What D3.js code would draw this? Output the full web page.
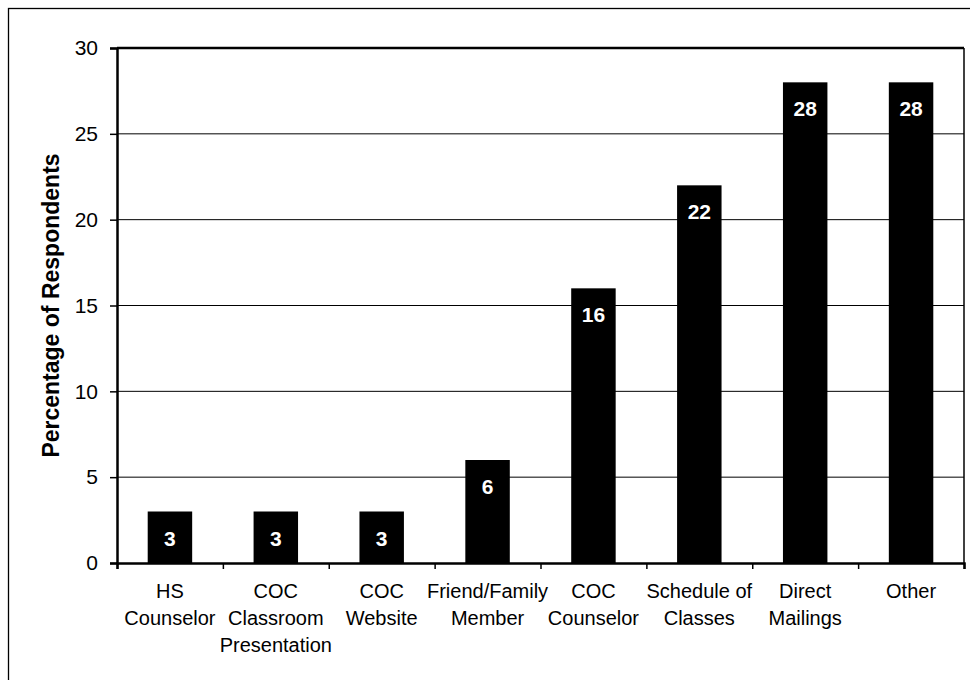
<!DOCTYPE html>
<html><head><meta charset="utf-8">
<script src="https://cdn.jsdelivr.net/npm/d3@7"></script>
<style>body{margin:0;background:#fff}svg{display:block}text{font-family:Arial,"Liberation Sans",sans-serif}</style>
</head><body>
<svg id="c" width="970" height="680"></svg>
<script>
const categories = [["HS","Counselor"],["COC","Classroom","Presentation"],["COC","Website"],["Friend/Family","Member"],["COC","Counselor"],["Schedule of","Classes"],["Direct","Mailings"],["Other"]];
const values = [3,3,3,6,16,22,28,28];
const yTicks = [0,5,10,15,20,25,30];
const yTitle = "Percentage of Respondents";

const svg = d3.select("#c");
const L=117, R=964, T=48, B=563;
svg.append("rect").attr("x",8.5).attr("y",8.5).attr("width",980).attr("height",700).attr("fill","none").attr("stroke","#000").attr("stroke-width",1.3);

const x = d3.scaleBand().domain(d3.range(categories.length)).range([L,R]).paddingInner(0.58).paddingOuter(0.29);
const y = d3.scaleLinear().domain([0,30]).range([B,T]);

// gridlines
svg.append("g").selectAll("line").data(yTicks.filter(t=>t>0&&t<30)).join("line")
  .attr("x1",L).attr("x2",R).attr("y1",d=>y(d)).attr("y2",d=>y(d)).attr("stroke","#000").attr("stroke-width",1);

// plot frame top & right
svg.append("line").attr("x1",L).attr("x2",R).attr("y1",T).attr("y2",T).attr("stroke","#000").attr("stroke-width",2.5);
svg.append("line").attr("x1",R).attr("x2",R).attr("y1",T).attr("y2",B).attr("stroke","#000").attr("stroke-width",1.5);

// bars
svg.append("g").selectAll("rect").data(values).join("rect")
  .attr("x",(d,i)=>x(i)).attr("width",x.bandwidth()).attr("y",d=>y(d)).attr("height",d=>B-y(d)).attr("fill","#000");

// value labels
svg.append("g").selectAll("text").data(values).join("text")
  .attr("x",(d,i)=>x(i)+x.bandwidth()/2).attr("y",d=>y(d)+34)
  .attr("text-anchor","middle").attr("fill","#fff").attr("font-weight","bold").attr("font-size",21).text(d=>d);

// y axis
const ya = svg.append("g").attr("transform",`translate(${L},0)`).call(d3.axisLeft(y).tickValues(yTicks).tickSize(7).tickPadding(12));
ya.select(".domain").attr("stroke-width",2.5);
ya.selectAll("text").attr("font-size",21).attr("fill","#000").attr("font-family","Arial,'Liberation Sans',sans-serif");
ya.selectAll(".tick line").attr("stroke-width",1.5);

// x axis
const xb = d3.scaleLinear().domain([0,categories.length]).range([L,R]);
const xa = svg.append("g").attr("transform",`translate(0,${B})`).call(d3.axisBottom(xb).ticks(categories.length).tickSize(6).tickFormat(""));
xa.select(".domain").attr("stroke-width",2.5);
xa.selectAll(".tick line").attr("stroke-width",1.5);

// x labels
const xl = svg.append("g").selectAll("text").data(categories).join("text")
  .attr("x",(d,i)=>x(i)+x.bandwidth()/2).attr("y",598).attr("text-anchor","middle").attr("font-size",20).attr("fill","#000");
xl.selectAll("tspan").data(d=>d).join("tspan").attr("x",function(){return d3.select(this.parentNode).attr("x");})
  .attr("dy",(d,i)=>i===0?0:27).text(d=>d);

// y title
svg.append("text").attr("transform",`translate(59,${(T+B)/2}) rotate(-90)`).attr("text-anchor","middle")
  .attr("font-size",23).attr("font-weight","bold").text(yTitle);
</script>
</body></html>
